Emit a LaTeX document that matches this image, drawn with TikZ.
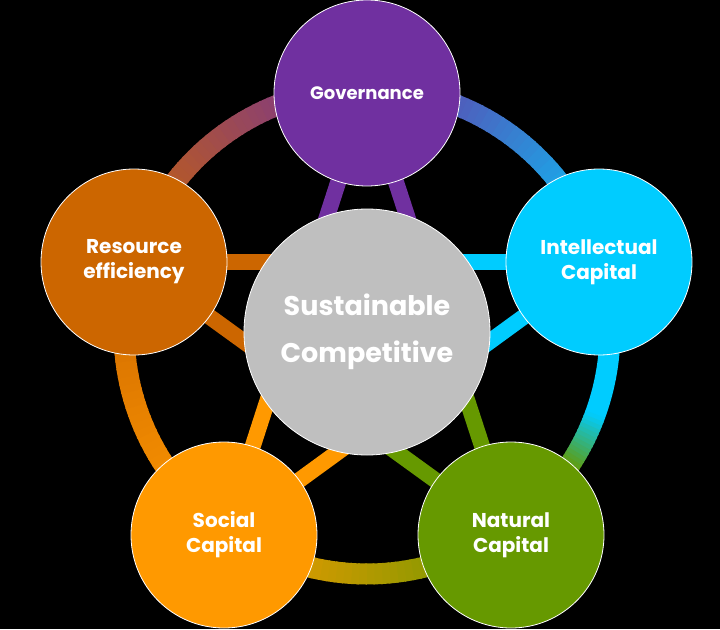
\documentclass[tikz,border=0pt]{standalone}
\usepackage{fontspec}
\setmainfont{Poppins}
\usetikzlibrary{calc}
\definecolor{govc}{HTML}{7030A0}
\definecolor{intc}{HTML}{00CCFF}
\definecolor{natc}{HTML}{669900}
\definecolor{socc}{HTML}{FF9900}
\definecolor{resc}{HTML}{CC6600}
\definecolor{cenc}{HTML}{BFBFBF}
\pgfdeclarelayer{bg}
\pgfdeclarelayer{back}
\pgfsetlayers{bg,back,main}
\newcommand\gradarc[5]{%
  \foreach \k in {1,...,#5} {
    \pgfmathsetmacro\angA{#1+(#2-#1)*(\k-1)/#5}
    \pgfmathsetmacro\angB{#1+(#2-#1)*\k/#5+0.4}
    \pgfmathtruncatemacro\mixp{100*(\k-0.5)/#5}
    \draw[ringseg, draw=#4!\mixp!#3] (RC) ++(\angA:243) arc[start angle=\angA, end angle=\angB, radius=243];
  }}
\begin{document}
\begin{tikzpicture}[x=1pt,y=-1pt,
  outer/.style={circle, draw=white, line width=0.8pt, minimum size=186pt, inner sep=0pt,
    text=white, align=center, font=\bfseries\fontsize{20}{25}\selectfont},
  centre/.style={circle, draw=white, line width=0.8pt, minimum size=246pt, inner sep=0pt,
    fill=cenc, text=white, align=center, font=\bfseries\fontsize{27}{47}\selectfont},
  starline/.style={line width=16pt},
  ringseg/.style={line width=21pt}]
\useasboundingbox (0,0) rectangle (720,629);
\begin{pgfonlayer}{bg}
  \fill[black] (0,0) rectangle (720,629);
\end{pgfonlayer}
\coordinate (RC) at (367,331);
\node[outer, fill=govc, font=\bfseries\fontsize{18}{22}\selectfont] (G) at (367,93) {Governance};
\node[outer, fill=intc] (I) at (599,262) {Intellectual\\Capital};
\node[outer, fill=natc] (N) at (511,535) {Natural\\Capital};
\node[outer, fill=socc] (S) at (224,535) {Social\\Capital};
\node[outer, fill=resc] (R) at (134,262) {Resource\\efficiency};
\node[centre] (K) at (367,332) {Sustainable\\Competitive};
\begin{pgfonlayer}{back}
  \gradarc{-90}{-18}{govc}{intc}{40}
  \gradarc{-18}{20}{intc}{intc}{1}
  \gradarc{20}{34}{intc}{natc}{14}
  \gradarc{34}{54}{natc}{natc}{1}
  \gradarc{54}{126}{natc}{socc}{40}
  \gradarc{126}{198}{socc}{resc}{40}
  \gradarc{198}{270}{resc}{govc}{40}
  \draw[starline, govc] (G.center) -- ($(G.center)!0.5!(S.center)$);
  \draw[starline, socc] (S.center) -- ($(G.center)!0.5!(S.center)$);
  \draw[starline, govc] (G.center) -- ($(G.center)!0.5!(N.center)$);
  \draw[starline, natc] (N.center) -- ($(G.center)!0.5!(N.center)$);
  \draw[starline, intc] (I.center) -- ($(I.center)!0.5!(R.center)$);
  \draw[starline, resc] (R.center) -- ($(I.center)!0.5!(R.center)$);
  \draw[starline, intc] (I.center) -- ($(I.center)!0.5!(S.center)$);
  \draw[starline, socc] (S.center) -- ($(I.center)!0.5!(S.center)$);
  \draw[starline, natc] (N.center) -- ($(N.center)!0.5!(R.center)$);
  \draw[starline, resc] (R.center) -- ($(N.center)!0.5!(R.center)$);
\end{pgfonlayer}
\end{tikzpicture}
\end{document}
